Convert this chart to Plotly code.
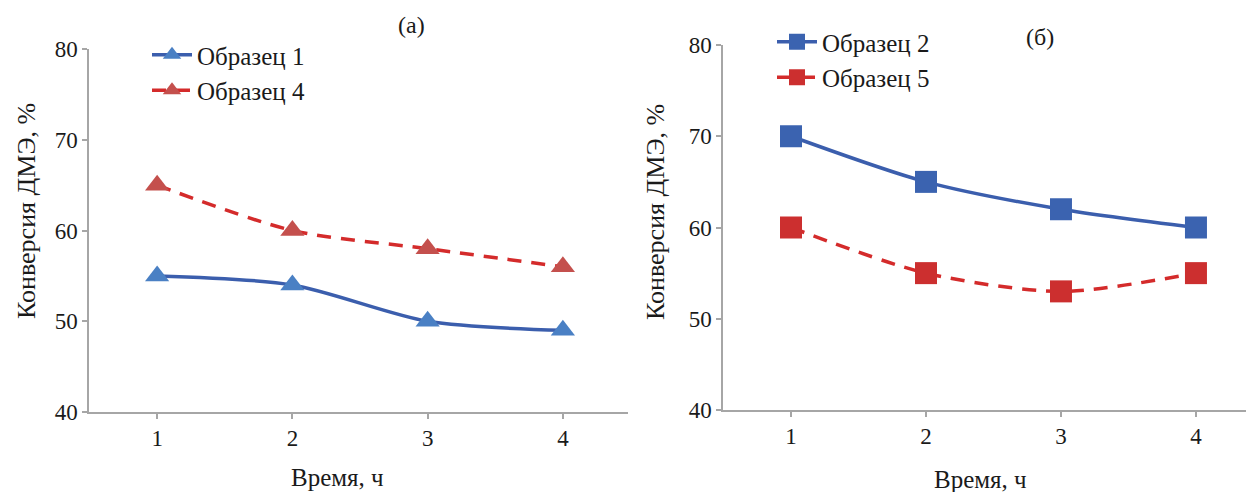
import plotly.graph_objects as go

# browser page has an 8px body margin: figure is drawn from screen (8, 8)
OX, OY = 8, 8
W, H = 1254 - OX, 492 - OY

hours = [1, 2, 3, 4]
hour_labels = ["1", "2", "3", "4"]
y_ticks = [40, 50, 60, 70, 80]

sample1 = [55, 54, 50, 49]
sample4 = [65, 60, 58, 56]
sample2 = [70, 65, 62, 60]
sample5 = [60, 55, 53, 55]

FONT = "Times New Roman, Tinos, Liberation Serif, serif"
TXT = "#1a1a1a"
AX = "#a6a6a6"
BLUE_L = "#3b5ead"
BLUE_T = "#4a80c4"
RED_L = "#d42b2b"
RED_T = "#c4504d"
BLUE_S = "#3b63b0"
RED_S = "#cc2f2f"
DASH = "14px,10px"


def px(sx):
    return (sx - OX) / W


def py(sy):
    return 1 - (sy - OY) / H


fig = go.Figure()

fig.add_trace(go.Scatter(x=hours, y=sample1, name="Образец 1", mode="lines+markers",
                         line=dict(color=BLUE_L, width=3.5, shape="spline", smoothing=0.8),
                         marker=dict(symbol="triangle-up", size=21, color=BLUE_T),
                         xaxis="x", yaxis="y", legend="legend"))
fig.add_trace(go.Scatter(x=hours, y=sample4, name="Образец 4", mode="lines+markers",
                         line=dict(color=RED_L, width=3.5, dash=DASH, shape="spline", smoothing=0.8),
                         marker=dict(symbol="triangle-up", size=21, color=RED_T),
                         xaxis="x", yaxis="y", legend="legend"))
fig.add_trace(go.Scatter(x=hours, y=sample2, name="Образец 2", mode="lines+markers",
                         line=dict(color=BLUE_L, width=3.5, shape="spline", smoothing=0.8),
                         marker=dict(symbol="square", size=22, color=BLUE_S),
                         xaxis="x2", yaxis="y2", legend="legend2"))
fig.add_trace(go.Scatter(x=hours, y=sample5, name="Образец 5", mode="lines+markers",
                         line=dict(color=RED_L, width=3.5, dash=DASH, shape="spline", smoothing=0.8),
                         marker=dict(symbol="square", size=22, color=RED_S),
                         xaxis="x2", yaxis="y2", legend="legend2"))


def xax(domain, rng):
    return dict(domain=domain, range=rng, tickvals=hours, ticktext=hour_labels,
                showline=True, linecolor=AX, linewidth=1.5, ticks="outside", ticklen=5,
                tickcolor=AX, tickwidth=1.5, showgrid=False, zeroline=False, automargin=False,
                tickfont=dict(family=FONT, size=23, color=TXT))


def yax(domain, anchor):
    return dict(domain=domain, range=[40, 80], tickvals=y_ticks, anchor=anchor,
                showline=True, linecolor=AX, linewidth=1.5, ticks="outside", ticklen=5,
                tickcolor=AX, tickwidth=1.5, showgrid=False, zeroline=False, automargin=False,
                tickfont=dict(family=FONT, size=23, color=TXT))


fig.update_layout(
    template="none",
    width=W, height=H, margin=dict(l=0, r=0, t=0, b=0, pad=0, autoexpand=False),
    font=dict(family=FONT, color=TXT),
    paper_bgcolor="white", plot_bgcolor="white",
    xaxis=dict(**xax([px(89), px(628)], [0.4963, 4.4815]), anchor="y"),
    yaxis=yax([py(412), py(49)], "x"),
    xaxis2=dict(**xax([px(723), 1.0], [0.4963, 4.43]), anchor="y2"),
    yaxis2=yax([py(410), py(45)], "x2"),
    legend=dict(x=px(147), y=py(32), xanchor="left", yanchor="top",
                bgcolor="rgba(0,0,0,0)", font=dict(family=FONT, size=25, color=TXT),
                tracegroupgap=0, itemwidth=40),
    legend2=dict(x=px(772), y=py(19), xanchor="left", yanchor="top",
                 bgcolor="rgba(0,0,0,0)", font=dict(family=FONT, size=25, color=TXT),
                 tracegroupgap=0, itemwidth=40),
    showlegend=True,
)

ann = dict(xref="paper", yref="paper", showarrow=False, xanchor="center", yanchor="middle")
annotations = [
    dict(text="(а)", x=px(411), y=py(25), font=dict(family=FONT, size=24, color=TXT), **ann),
    dict(text="(б)", x=px(1040), y=py(37), font=dict(family=FONT, size=24, color=TXT), **ann),
    dict(text="Время, ч", x=px(337), y=py(477), font=dict(family=FONT, size=25, color=TXT), **ann),
    dict(text="Время, ч", x=px(980), y=py(479), font=dict(family=FONT, size=25, color=TXT), **ann),
    dict(text="Конверсия ДМЭ, %", x=px(26), y=py(211), textangle=-90,
         font=dict(family=FONT, size=26, color=TXT), **ann),
    dict(text="Конверсия ДМЭ, %", x=px(656), y=py(212), textangle=-90,
         font=dict(family=FONT, size=26, color=TXT), **ann),
]
fig.update_layout(annotations=annotations)

fig.write_html("out.html")
